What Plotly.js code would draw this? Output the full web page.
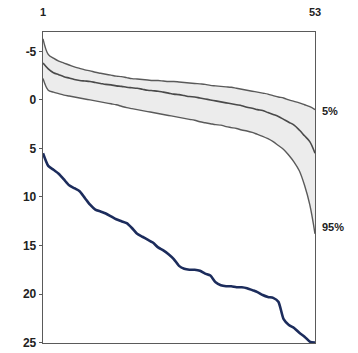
<!DOCTYPE html>
<html>
<head>
<meta charset="utf-8">
<script src="https://cdn.plot.ly/plotly-3.0.1.min.js"></script>
<style>html,body{margin:0;padding:0;background:#fff;}#chart{width:358px;height:353px;}</style>
</head>
<body>
<div id="chart"></div>
<script>
const ranks = Array.from({length: 53}, (_, i) => i + 1);
const p5 = [-6.3,-4.7,-4.3,-4.0,-3.8,-3.6,-3.4,-3.25,-3.1,-3.0,-2.85,-2.75,-2.65,-2.55,-2.45,-2.4,-2.3,-2.2,-2.15,-2.1,-2.05,-2.0,-2.0,-1.95,-1.9,-1.9,-1.85,-1.8,-1.75,-1.7,-1.65,-1.6,-1.5,-1.45,-1.4,-1.35,-1.3,-1.2,-1.1,-1.0,-0.9,-0.8,-0.7,-0.6,-0.45,-0.3,-0.2,0.0,0.15,0.3,0.5,0.7,1.0];
const median = [-3.8,-3.2,-2.8,-2.6,-2.4,-2.25,-2.1,-2.0,-1.95,-1.9,-1.8,-1.7,-1.6,-1.55,-1.45,-1.4,-1.3,-1.25,-1.2,-1.1,-1.0,-0.95,-0.9,-0.8,-0.7,-0.6,-0.55,-0.45,-0.35,-0.3,-0.2,-0.1,0.0,0.1,0.2,0.3,0.4,0.5,0.6,0.75,0.85,1.0,1.1,1.3,1.5,1.7,2.0,2.3,2.6,3.1,3.7,4.3,5.5];
const p95 = [-2.2,-1.0,-0.8,-0.65,-0.5,-0.4,-0.3,-0.2,-0.1,0.0,0.1,0.2,0.3,0.4,0.5,0.65,0.8,0.9,1.0,1.1,1.2,1.3,1.4,1.5,1.6,1.7,1.8,1.9,2.0,2.1,2.25,2.35,2.45,2.55,2.6,2.75,2.85,2.95,3.1,3.2,3.35,3.55,3.75,4.0,4.3,4.7,5.1,5.7,6.4,7.3,8.8,10.8,13.8];
const observed = [5.5,6.8,7.2,7.6,8.2,8.8,9.1,9.4,10.1,10.8,11.3,11.5,11.7,12.0,12.3,12.5,12.7,13.2,13.8,14.1,14.4,14.7,15.2,15.5,15.9,16.4,17.1,17.4,17.5,17.5,17.6,17.9,18.1,18.8,19.1,19.2,19.2,19.3,19.3,19.4,19.6,19.8,20.1,20.3,20.4,20.8,22.6,23.2,23.5,24.0,24.4,24.9,25.0];
const xTicks = [1, 53];
const yTicks = [-5, 0, 5, 10, 15, 20, 25];
const bandLabels = ["5%", "95%"];

const gray = '#5a5a5a';
const traces = [
  {x: ranks, y: p5, mode: 'lines', line: {color: gray, width: 1.4, shape: 'spline'}, hoverinfo: 'skip'},
  {x: ranks, y: p95, mode: 'lines', line: {color: gray, width: 1.4, shape: 'spline'}, fill: 'tonexty', fillcolor: '#ececec', hoverinfo: 'skip'},
  {x: ranks, y: median, mode: 'lines', line: {color: '#4a4a4a', width: 1.6, shape: 'spline'}, hoverinfo: 'skip'},
  {x: ranks, y: observed, mode: 'lines', line: {color: '#1c2c5c', width: 2.6, shape: 'spline', smoothing: 0.6}, hoverinfo: 'skip'}
];

const layout = {
  width: 358, height: 353,
  margin: {l: 43, r: 43, t: 32, b: 10, pad: 0},
  paper_bgcolor: '#fff', plot_bgcolor: '#fff',
  showlegend: false,
  font: {family: 'Liberation Sans, Arial, sans-serif', size: 12, color: '#222'},
  xaxis: {
    side: 'top', range: [1, 53], tickvals: xTicks, ticktext: xTicks.map(String),
    showgrid: false, zeroline: false, showline: true, linecolor: gray, linewidth: 1.3, mirror: true,
    ticks: 'outside', ticklen: 10, tickcolor: 'rgba(0,0,0,0)',
    tickfont: {family: 'Liberation Sans, Arial, sans-serif', size: 11, color: '#222', weight: 'bold'}
  },
  yaxis: {
    range: [25.05, -7.0], tickvals: yTicks, ticktext: yTicks.map(String),
    showgrid: false, zeroline: false, showline: true, linecolor: gray, linewidth: 1.3, mirror: true,
    ticks: 'outside', ticklen: 3, tickcolor: gray,
    tickfont: {family: 'Liberation Sans, Arial, sans-serif', size: 12, color: '#222', weight: 'bold'}
  },
  annotations: [
    {x: 1, xref: 'paper', xanchor: 'left', xshift: 5, y: 1.1, yref: 'y', yanchor: 'middle', text: bandLabels[0], showarrow: false, font: {size: 11, color: '#222', weight: 'bold'}},
    {x: 1, xref: 'paper', xanchor: 'left', xshift: 5, y: 13.1, yref: 'y', yanchor: 'middle', text: bandLabels[1], showarrow: false, font: {size: 11, color: '#222', weight: 'bold'}}
  ]
};

Plotly.newPlot('chart', traces, layout, {staticPlot: true, displayModeBar: false});
</script>
</body>
</html>
